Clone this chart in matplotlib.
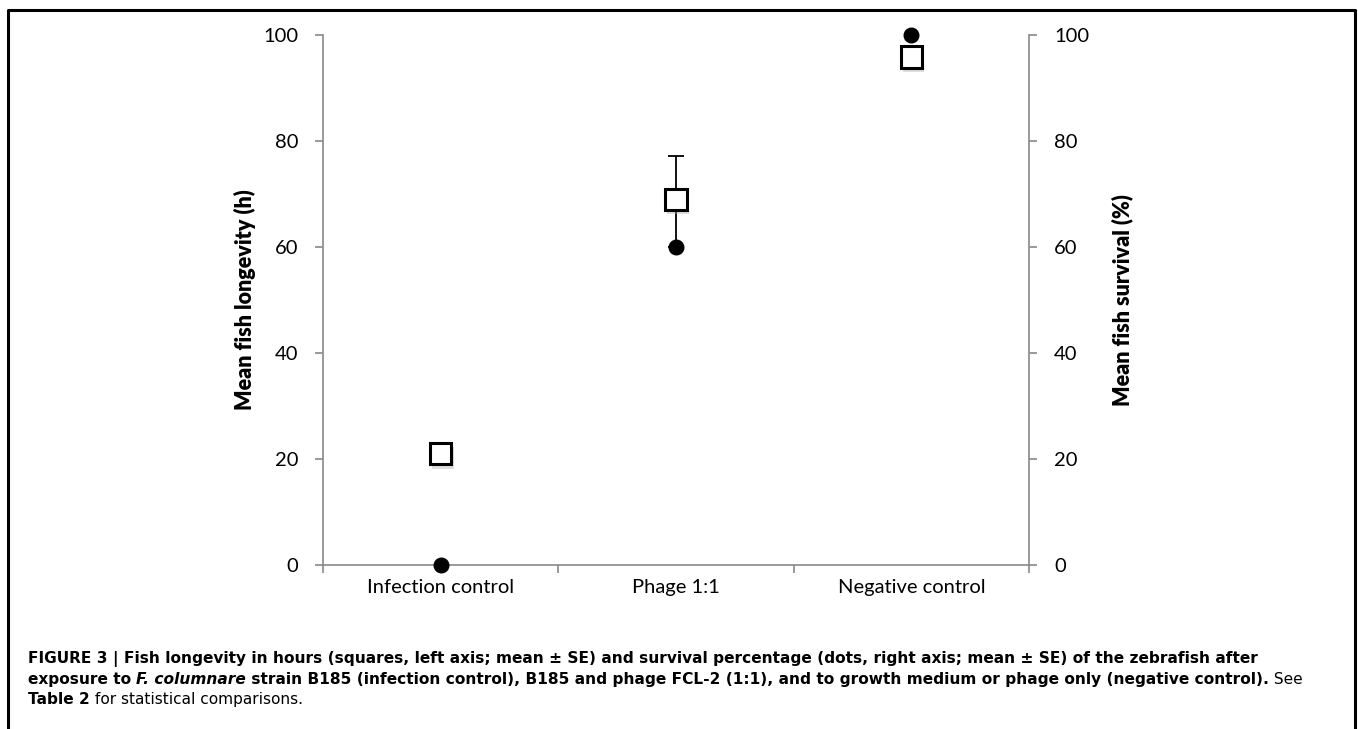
import numpy as np
import matplotlib
matplotlib.use("Agg")
import matplotlib.pyplot as plt
import matplotlib.patheffects as pe
from matplotlib.lines import Line2D

# data
groups = ["Infection control", "Phage 1:1", "Negative control"]
longevity_h = [21.0, 69.0, 95.8]      # squares, left axis
longevity_err_lo = [0.0, 9.0, 0.0]
longevity_err_hi = [0.0, 8.2, 0.0]
survival_pct = [0.0, 60.0, 100.0]     # dots, right axis

W, H = 1358, 729
fig = plt.figure(figsize=(W / 100, H / 100), dpi=100)

# axes box in pixel terms
x0, x1 = 323, 1029
y0, y1 = 565, 35
ax = fig.add_axes([x0 / W, 1 - y0 / H, (x1 - x0) / W, (y0 - y1) / H])
ax2 = ax.twinx()

tick_font = "Lato"
grey = "#898989"
x = np.arange(1, len(groups) + 1)

# error bars then squares
ax.errorbar(x, longevity_h, yerr=[longevity_err_lo, longevity_err_hi], fmt="none",
            ecolor="black", elinewidth=1.3, capsize=5.5, capthick=1.3, zorder=2)
ax.plot(x, longevity_h, ls="none", marker="s", ms=15.5, mfc="white",
        mec="black", mew=2.2, zorder=3, clip_on=False,
        path_effects=[pe.SimplePatchShadow(offset=(1.5, -3), shadow_rgbFace="#aaaaaa", alpha=0.4),
                      pe.Normal()])
ax2.plot(x, survival_pct, ls="none", marker="o", ms=10.5, mfc="black",
         mec="black", zorder=4, clip_on=False)

ax.set_xlim(0.5, 3.5)
ax.set_ylim(0, 100)
ax2.set_ylim(0, 100)
ax.set_yticks(np.arange(0, 101, 20))
ax2.set_yticks(np.arange(0, 101, 20))
ax.set_xticks(x)
ax.set_xticklabels(groups)
ax.set_xticks([0.5, 1.5, 2.5, 3.5], minor=True)

for a in (ax, ax2):
    a.spines["top"].set_visible(False)
    for s in a.spines.values():
        s.set_color(grey)
        s.set_linewidth(1.2)
    a.tick_params(axis="y", direction="out", length=6, width=1.2, color=grey,
                  labelsize=14.5, pad=12)
    for lab in a.get_yticklabels():
        lab.set_fontfamily(tick_font)
ax2.spines["left"].set_visible(False)
ax2.spines["bottom"].set_visible(False)
ax.spines["right"].set_visible(False)

ax.tick_params(axis="x", which="major", length=0, labelsize=14.5, pad=10)
ax.tick_params(axis="x", which="minor", direction="out", length=6, width=1.2, color=grey)
for lab in ax.get_xticklabels():
    lab.set_fontfamily(tick_font)

ax.set_ylabel("Mean fish longevity (h)", fontsize=15.5, fontweight="heavy",
              family=tick_font, labelpad=5)
ax2.set_ylabel("Mean fish survival (%)", fontsize=15.5, fontweight="heavy",
               family=tick_font, labelpad=16, rotation=90)

# frame around figure (open at the bottom)
lw = 2.2
bx0, bx1, by = 7.5 / W, 1355 / W, 1 - 10 / H
fig.add_artist(Line2D([bx0, bx0, bx1, bx1], [0, by, by, 0], transform=fig.transFigure,
                      color="black", lw=lw))

# caption with mixed styles
cap_font = "DejaVu Sans"
lines = [
    [("FIGURE 3 | Fish longevity in hours (squares, left axis; mean \u00b1 SE) and survival percentage "
      "(dots, right axis; mean \u00b1 SE) of the zebrafish after", "bold", "normal")],
    [("exposure to ", "bold", "normal"), ("F. columnare", "bold", "italic"),
     (" strain B185 (infection control), B185 and phage FCL-2 (1:1), and to growth medium or phage only "
      "(negative control).", "bold", "normal"), (" See", "normal", "normal")],
    [("Table 2", "bold", "normal"), (" for statistical comparisons.", "normal", "normal")],
]

# fit the first line to its width in the reference (x 28 -> 1261)
probe = fig.text(0, 0, lines[0][0][0], fontsize=10, fontweight="bold", family=cap_font)
fig.canvas.draw()
pw = probe.get_window_extent().width
probe.remove()
cap_size = 10 * (1261 - 28) / pw

baselines = [663, 684, 704]
for parts, yb in zip(lines, baselines):
    prev = None
    for txt, wt, st in parts:
        if prev is None:
            prev = fig.text(28 / W, 1 - yb / H, txt, fontsize=cap_size, fontweight=wt,
                            fontstyle=st, family=cap_font, va="baseline", ha="left")
        else:
            prev = ax.annotate(txt, xy=(1, 0), xycoords=prev, va="bottom", ha="left",
                               fontsize=cap_size, fontweight=wt, fontstyle=st,
                               family=cap_font, annotation_clip=False)

fig.savefig("out.png", dpi=100)
